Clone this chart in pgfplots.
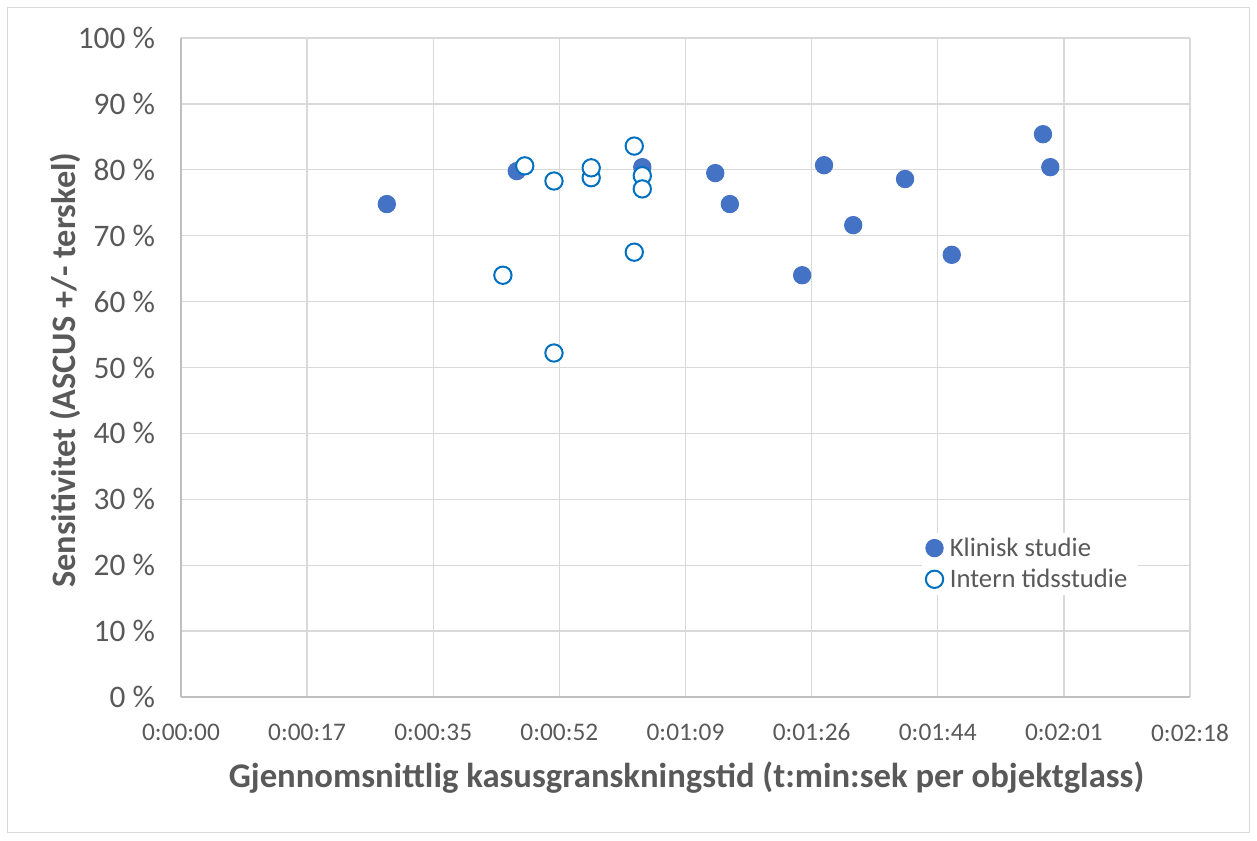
\documentclass[border=0pt]{standalone}
\usepackage{pgfplots}
\pgfplotsset{compat=1.18}
\usepackage{fontspec}
\setmainfont{Carlito}
\definecolor{filledblue}{HTML}{4472C4}
\definecolor{openblue}{HTML}{0070C0}
\definecolor{gridgray}{HTML}{D9D9D9}
\definecolor{axisgray}{HTML}{BFBFBF}
\definecolor{textgray}{HTML}{595959}
\begin{document}
\begin{tikzpicture}
% picture frame (1 px = 0.75pt)
\path[use as bounding box] (-135.75pt,-107.25pt) rectangle (807pt,522.75pt);
\draw[gridgray, line width=0.75pt] (-129.75pt,-101.25pt) rectangle (801pt,516.75pt);
\begin{axis}[
  at={(0pt,0pt)}, anchor=south west,
  scale only axis,
  width=756.75pt, height=494.25pt,
  xmin=0, xmax=138.24, ymin=0, ymax=100,
  axis x line*=bottom, axis y line*=left,
  axis line style={axisgray, line width=1pt},
  major tick length=0pt,
  grid=major,
  major grid style={gridgray, line width=1pt},
  xtick={0,17.28,34.56,51.84,69.12,86.4,103.68,120.96,138.24},
  xticklabels={0:00:00,0:00:17,0:00:35,0:00:52,0:01:09,0:01:26,0:01:44,0:02:01,0:02:18},
  ytick={0,10,20,30,40,50,60,70,80,90,100},
  yticklabels={0 \%,10 \%,20 \%,30 \%,40 \%,50 \%,60 \%,70 \%,80 \%,90 \%,100 \%},
  xticklabel style={font=\fontsize{19}{20}\selectfont, text=textgray, yshift=-16.5pt},
  yticklabel style={font=\fontsize{23.5}{25}\selectfont, text=textgray, xshift=-16pt},
  xlabel={Gjennomsnittlig kasusgranskningstid (t:min:sek per objektglass)},
  ylabel={Sensitivitet (ASCUS +/- terskel)},
  xlabel style={font=\fontsize{26}{28}\selectfont\bfseries, text=textgray,
    at={(axis description cs:0.501,-0.123)}, anchor=center},
  ylabel style={font=\fontsize{25.7}{28}\selectfont\bfseries, text=textgray,
    at={(axis description cs:-0.115,0.496)}, anchor=center, rotate=0},
  legend style={at={(0.734,0.25)}, anchor=north west, draw=none, fill=white,
    font=\fontsize{20}{21}\selectfont, text=textgray, row sep=4pt,
    nodes={inner xsep=5pt}},
  legend cell align=left,
]
\addplot[only marks, mark=*, mark size=6.5pt, mark options={draw=filledblue, fill=filledblue, line width=0.75pt}] coordinates {
  (28.2,74.8) (46.0,79.8) (63.2,80.4) (73.2,79.5) (75.2,74.8)
  (85.1,64.0) (88.1,80.7) (92.1,71.6) (99.2,78.6) (105.6,67.1)
  (118.1,85.4) (119.1,80.4)
};
\addlegendentry{Klinisk studie}
\addplot[only marks, mark=*, mark size=6.5pt, mark options={draw=openblue, fill=white, line width=1.5pt}] coordinates {
  (44.1,64.0) (47.1,80.6) (51.1,78.3) (51.1,52.2) (56.2,78.8)
  (56.2,80.3) (62.1,83.6) (62.1,67.5) (63.2,79.1) (63.2,77.1)
};
\addlegendentry{Intern tidsstudie}
\end{axis}
\end{tikzpicture}
\end{document}
